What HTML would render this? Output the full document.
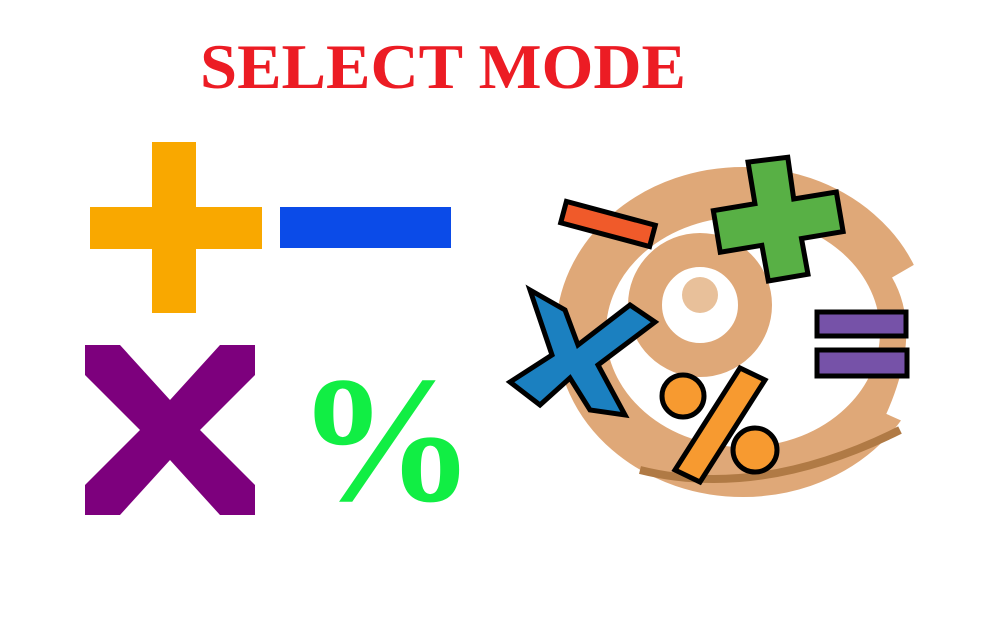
<!DOCTYPE html>
<html><head><meta charset="utf-8"><style>html,body{margin:0;padding:0;background:#fff;}svg{display:block}</style></head>
<body>
<svg width="1000" height="640" viewBox="0 0 1000 640">
<text x="200" y="88" textLength="486" lengthAdjust="spacingAndGlyphs" font-family="'Liberation Serif',serif" font-weight="bold" font-size="64" fill="#ec1c24">SELECT MODE</text>
<g><rect x="152" y="142" width="44" height="171" fill="#f9a800"/><rect x="90" y="207" width="172" height="42" fill="#f9a800"/></g>
<rect x="280" y="207" width="171" height="41" fill="#0b4be8"/>
<g fill="#7d007d"><polygon points="85,345 120,345 170,400 220,345 255,345 255,375 200,430 255,485 255,515 220,515 170,460 120,515 85,515 85,485 140,430 85,375"/></g>
<text x="296" y="500" font-family="'Liberation Serif',serif" font-weight="bold" font-size="180" fill="#11ee44">%</text>
<g>
<ellipse cx="743" cy="332" rx="162" ry="140" fill="none" stroke="#dfa878" stroke-width="50"/>
<path d="M 905 270 Q 940 330 900 420" fill="none" stroke="#fff" stroke-width="30"/>
<circle cx="700" cy="305" r="55" fill="none" stroke="#dfa878" stroke-width="34"/>
<circle cx="700" cy="295" r="18" fill="#e8c09a"/>
<path d="M640 470 Q760 500 900 430" fill="none" stroke="#b07a45" stroke-width="8"/>
<rect x="562" y="213" width="92" height="22" fill="#f05a2a" stroke="#000" stroke-width="5" transform="rotate(15 608 224)"/>
<polygon points="752,160 792,158 795,200 838,196 842,236 800,240 804,276 764,280 760,244 718,248 714,206 756,202" fill="#58b045" stroke="#000" stroke-width="5" transform="rotate(-4 780 218)"/>
<polygon points="530,290 565,310 578,345 630,305 655,322 598,365 625,415 590,410 570,378 540,405 510,382 552,355" fill="#1b80c0" stroke="#000" stroke-width="5"/>
<rect x="817" y="312" width="89" height="24" fill="#7652a8" stroke="#000" stroke-width="5"/>
<rect x="817" y="350" width="90" height="26" fill="#7652a8" stroke="#000" stroke-width="5"/>
<polygon points="740,368 765,380 700,482 675,470" fill="#f79a30" stroke="#000" stroke-width="5"/>
<circle cx="683" cy="396" r="21" fill="#f79a30" stroke="#000" stroke-width="5"/>
<circle cx="755" cy="450" r="22" fill="#f79a30" stroke="#000" stroke-width="5"/>
</g>
</svg>
</body></html>
